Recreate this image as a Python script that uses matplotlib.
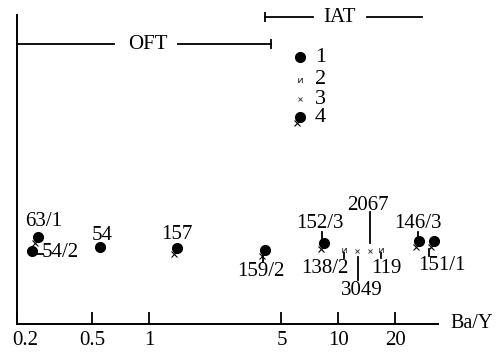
import matplotlib
matplotlib.use("Agg")
import matplotlib.pyplot as plt
import matplotlib.transforms as mtransforms
from matplotlib.path import Path

plt.rcParams['font.family'] = ['Liberation Serif', 'DejaVu Serif']

# samples: Ba/Y value, vertical position, symbol type
samples = ['63/1', '54/2', '54', '157', '159/2', '152/3', '138/2', '3049', '2067', '119', '146/3', '151/1']
ba_y = [0.257, 0.239, 0.546, 1.40, 4.07, 8.40, 10.7, 12.6, 14.6, 16.7, 26.7, 32.0]
ypos = [28.3, 23.6, 24.8, 24.7, 23.9, 26.1, 23.9, 23.6, 23.6, 23.9, 26.9, 26.9]
kind = [4, 1, 1, 4, 4, 4, 2, 3, 3, 2, 4, 4]

legend_items = ['1', '2', '3', '4']
legend_y = [86.3, 79.0, 72.7, 66.9]
legend_x = 6.3

xticks = [0.2, 0.5, 1, 5, 10, 20]
xticklabels = ['0.2', '0.5', '1', '5', '10', '20']

# field bars (label, start, end, text position, gap start, gap end, height)
oft = ('OFT', 0.2, 4.41, 0.984, 0.650, 1.427, 90.6)
iat = ('IAT', 4.07, 27.6, 10.16, 7.30, 14.2, 99.3)

# label layout, pixel offsets from the point: text (dx, dy), connector (x0, y0, x1, y1)
label_off = {'63/1': (6, 15), '54/2': (29, -1), '54': (3, 12), '157': (0, 13),
             '159/2': (-4, -21), '152/3': (-4, 20), '138/2': (-19, -18),
             '3049': (4, -39), '2067': (-2, 46), '119': (6, -18),
             '146/3': (-1, 17), '151/1': (8, -25)}
conn = {'54/2': (3, -3, 11, -3), '159/2': (-2, -5, -2, -12), '152/3': (-2, 5, -2, 11),
        '138/2': (0, -3, 0, -8), '3049': (0.5, -6, 0.5, -29), '2067': (0.5, 8, 0.5, 39),
        '119': (0, -3, 0, -8), '146/3': (-1, 3, -1, 9), '151/1': (-4.5, -8, -4.5, -15)}

DPI = 100
FS = 15
fig = plt.figure(figsize=(4.97, 3.52), dpi=DPI)
ax = fig.add_axes([17/497, 28/352, 421/497, 309/352])
ax.set_xscale('log')
ax.set_xlim(0.2, 33.6)
ax.set_ylim(0, 100)

# "и"-like small marker for type 2
ipath = Path([(-1, -1.3), (-1, 1.3), (-1, -1.3), (1, 1.3), (1, -1.3), (1, 1.3)],
             [Path.MOVETO, Path.LINETO, Path.MOVETO, Path.LINETO, Path.MOVETO, Path.LINETO])


def px_trans(x, y):
    # transform where coordinates are pixel offsets from data point (x, y)
    return (mtransforms.Affine2D().scale(1.0 / DPI) + fig.dpi_scale_trans
            + mtransforms.ScaledTranslation(x, y, ax.transData))


def draw_symbol(x, y, k):
    if k in (1, 4):
        ax.plot([x], [y], 'o', color='black', ms=7, zorder=4, clip_on=False)
    if k == 4:
        ax.plot([-3], [-6], marker='x', color='black', ms=4, mew=0.8,
                transform=px_trans(x, y), zorder=3, clip_on=False)
    if k == 2:
        ax.plot([x], [y], marker=ipath, color='#444444', ms=3.5, mew=0.7, ls='none')
    if k == 3:
        ax.plot([x], [y], marker='x', color='#444444', ms=2.5, mew=0.7, ls='none')


for s, xv, yv, k in zip(samples, ba_y, ypos, kind):
    draw_symbol(xv, yv, k)
    if s in conn:
        x0, y0, x1, y1 = conn[s]
        ax.plot([x0, x1], [y0, y1], color='black', lw=1.3, transform=px_trans(xv, yv))
    dx, dy = label_off[s]
    ax.annotate(s, xy=(xv, yv), xytext=(dx, dy), textcoords='offset pixels',
                ha='center', va='center', fontsize=FS)

# legend
for lab, yv in zip(legend_items, legend_y):
    draw_symbol(legend_x, yv, int(lab))
    ax.annotate(lab, xy=(legend_x, yv), xytext=(20, 0), textcoords='offset pixels',
                ha='center', va='center', fontsize=FS + 1)

# OFT / IAT bars
for name, x0, x1, xt, g0, g1, yv in (oft, iat):
    ax.plot([x0, g0], [yv, yv], color='black', lw=1.3, clip_on=False)
    ax.plot([g1, x1], [yv, yv], color='black', lw=1.3, clip_on=False)
    ax.text(xt, yv, name, ha='center', va='center', fontsize=FS)
ax.plot([oft[2]], [oft[6]], marker='|', ms=7.5, mew=1.3, color='black', clip_on=False)
ax.plot([iat[1]], [iat[6]], marker='|', ms=7.5, mew=1.3, color='black', clip_on=False)

ax.spines['top'].set_visible(False)
ax.spines['right'].set_visible(False)
ax.spines['left'].set_linewidth(1.4)
ax.spines['bottom'].set_linewidth(1.4)
ax.set_yticks([])
ax.set_xticks(xticks)
ax.set_xticklabels(xticklabels, fontsize=FS)
ax.xaxis.set_minor_locator(plt.NullLocator())
ax.tick_params(axis='x', direction='in', length=8.5, width=1.3, pad=5)
first = ax.get_xticklabels()[0]
first.set_transform(first.get_transform() + mtransforms.ScaledTranslation(8 / DPI, 0, fig.dpi_scale_trans))

ax.set_xlabel('Ba/Y', fontsize=FS - 0.5, ha='left', va='center')
ax.xaxis.set_label_coords(1.03, 0.0)

fig.savefig('out.png', dpi=DPI)
